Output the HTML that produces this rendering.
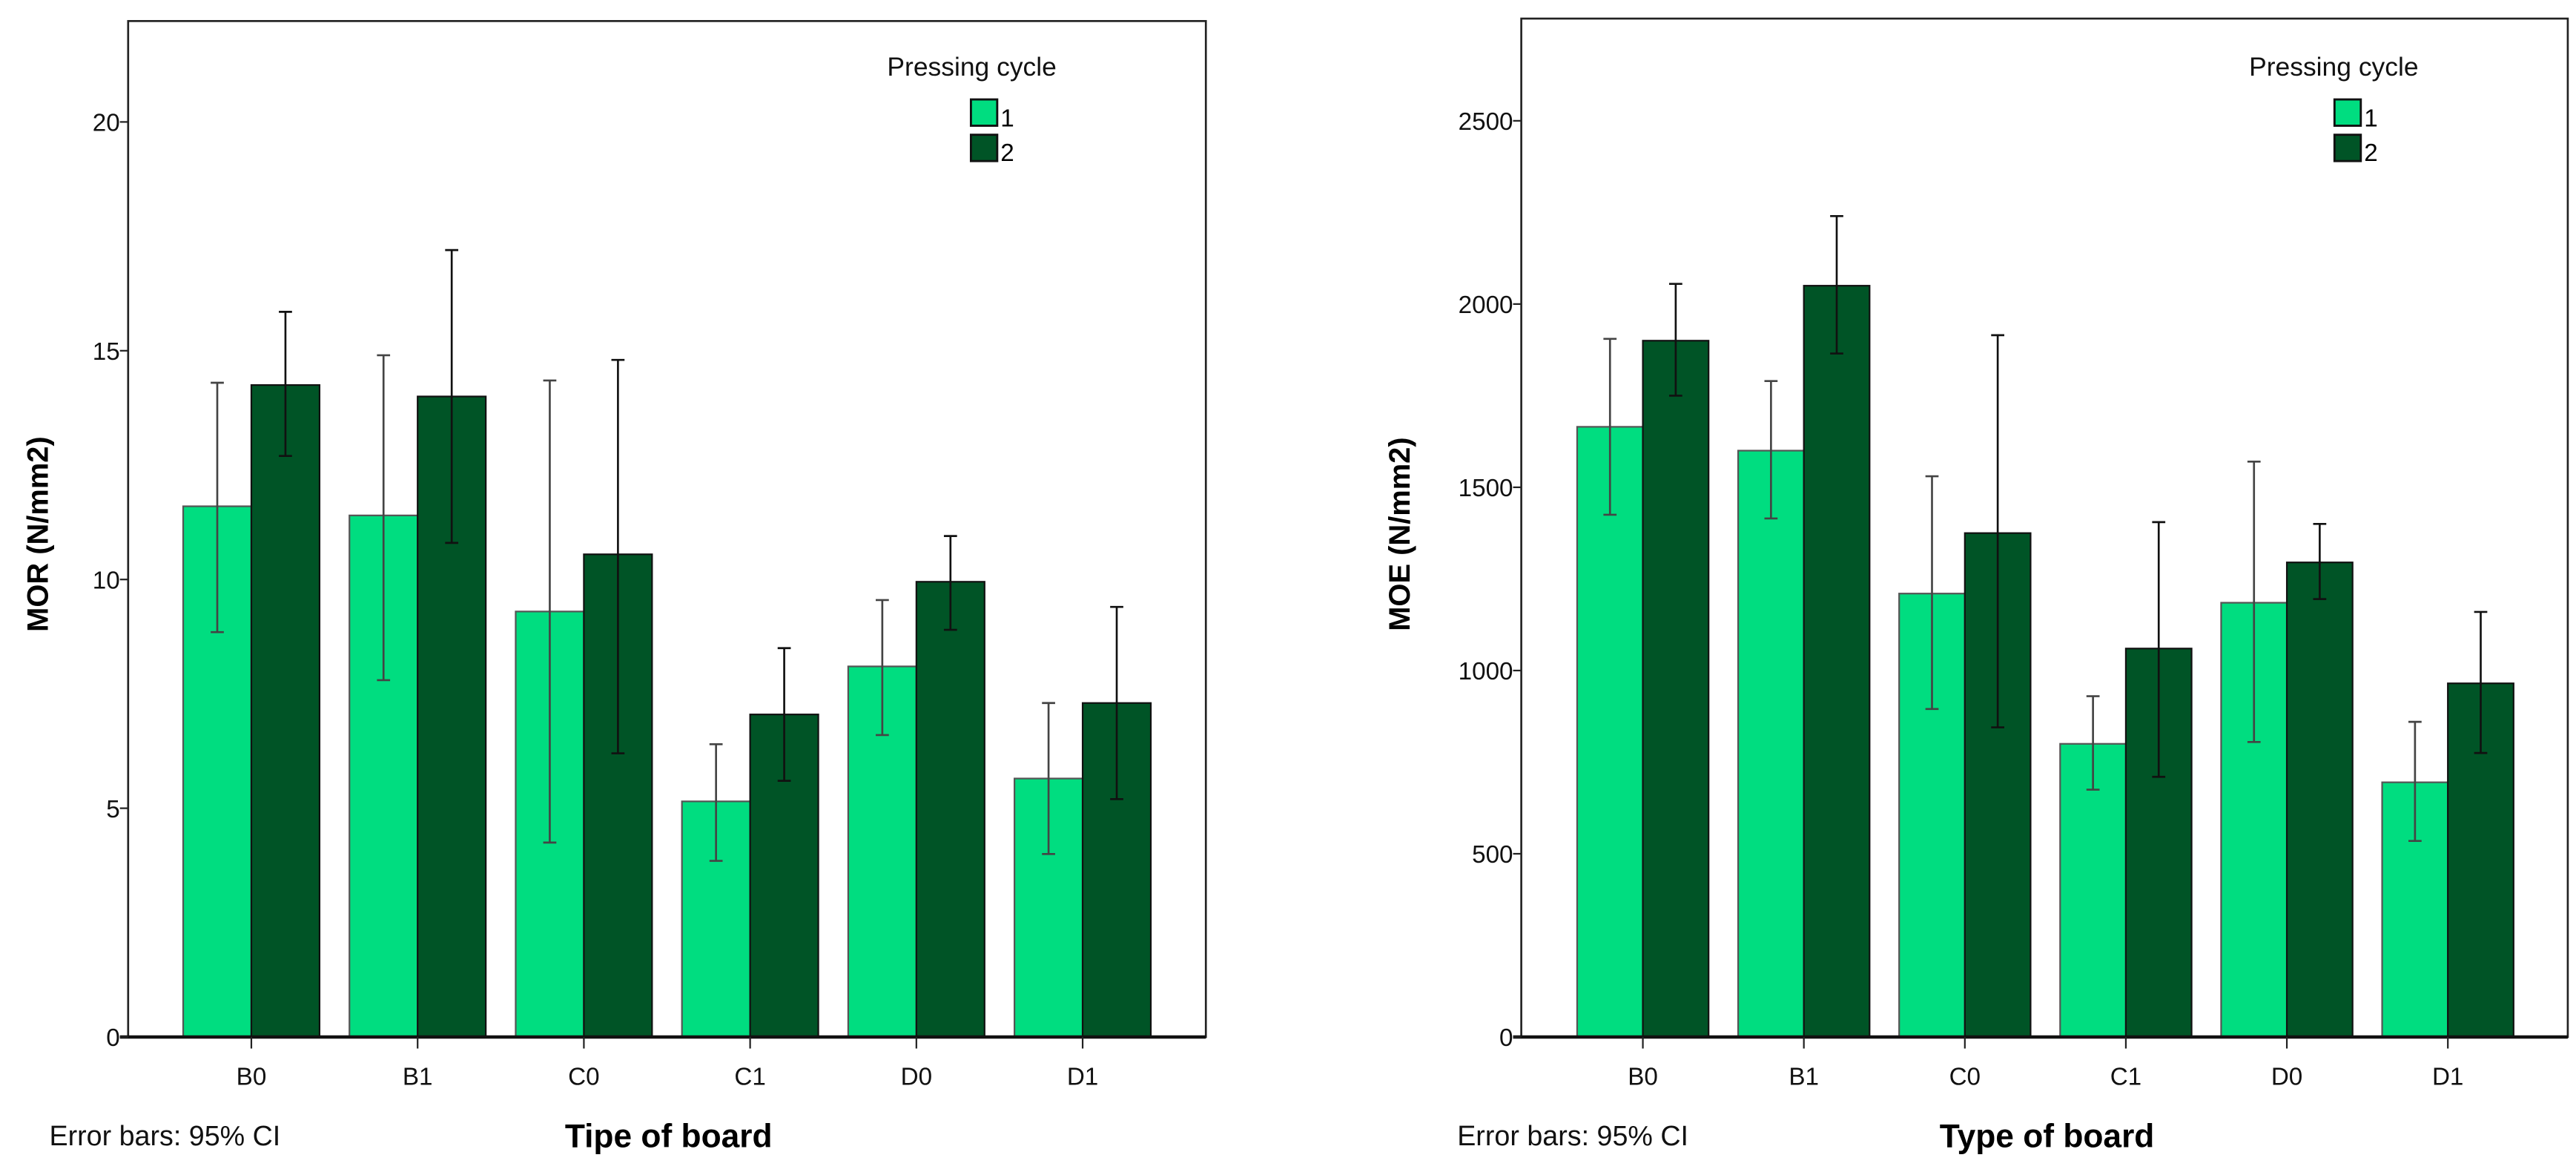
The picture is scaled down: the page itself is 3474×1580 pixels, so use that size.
<!DOCTYPE html>
<html><head><meta charset="utf-8"><style>
html,body{margin:0;padding:0;background:#fff}
svg{display:block}
text{font-family:"Liberation Sans",Arial,sans-serif}
</style></head><body>
<svg id="s" width="3474" height="1580" viewBox="0 0 1568 713.13" xmlns="http://www.w3.org/2000/svg"></svg>
<script>
const categories = ["B0","B1","C0","C1","D0","D1"];
const morCycle1 = [11.6, 11.4, 9.3, 5.15, 8.1, 5.65];
const morCycle1Lo = [8.85, 7.8, 4.25, 3.85, 6.6, 4.0];
const morCycle1Hi = [14.3, 14.9, 14.35, 6.4, 9.55, 7.3];
const morCycle2 = [14.25, 14.0, 10.55, 7.05, 9.95, 7.3];
const morCycle2Lo = [12.7, 10.8, 6.2, 5.6, 8.9, 5.2];
const morCycle2Hi = [15.85, 17.2, 14.8, 8.5, 10.95, 9.4];
const morTicks = [0, 5, 10, 15, 20];
const moeCycle1 = [1665, 1600, 1210, 800, 1185, 695];
const moeCycle1Lo = [1425, 1415, 895, 675, 805, 535];
const moeCycle1Hi = [1905, 1790, 1530, 930, 1570, 860];
const moeCycle2 = [1900, 2050, 1375, 1060, 1295, 965];
const moeCycle2Lo = [1750, 1865, 845, 710, 1195, 775];
const moeCycle2Hi = [2055, 2240, 1915, 1405, 1400, 1160];
const moeTicks = [0, 500, 1000, 1500, 2000, 2500];

const NS = "http://www.w3.org/2000/svg";
const svg = document.getElementById('s');
function mk(tag, attrs, parent, txt){
  const e = document.createElementNS(NS, tag);
  for (const k in attrs) e.setAttribute(k, attrs[k]);
  if (txt !== undefined) e.textContent = txt;
  (parent||svg).appendChild(e);
  return e;
}
function chart(cfg){
  const g = mk('g', {});
  
  
  const y = v => cfg.y0 - (v / cfg.tickStep) * cfg.tickPx;
  const xc = i => cfg.xFirst + i * cfg.xStep;
  const bw = cfg.bw;
  categories.forEach((c, i) => {
    const specs = [[cfg.s1, '#00dd80', '#555', -bw, 'cycle-1'], [cfg.s2, '#005426', '#111', 0, 'cycle-2']];
    specs.forEach(([vals, fill, stroke, off, nm]) => {
      const r = mk('rect', {x: xc(i)+off, y: y(vals[i]), width: bw, height: cfg.y0 - y(vals[i]), fill: fill, stroke: stroke, 'stroke-width': 1}, g);
      
      
    });
  });
  categories.forEach((c, i) => {
    const specs = [[cfg.s1lo, cfg.s1hi, -bw/2, '#444', 'cycle-1'], [cfg.s2lo, cfg.s2hi, bw/2, '#111', 'cycle-2']];
    specs.forEach(([lo, hi, off, col, nm]) => {
      const cx = xc(i) + off;
      const eg = mk('g', {stroke: col, 'stroke-width': 1.2}, g);
      
      
      mk('line', {x1: cx, x2: cx, y1: y(lo[i]), y2: y(hi[i])}, eg);
      mk('line', {x1: cx-4, x2: cx+4, y1: y(lo[i]), y2: y(lo[i])}, eg);
      mk('line', {x1: cx-4, x2: cx+4, y1: y(hi[i]), y2: y(hi[i])}, eg);
    });
  });
  const fr = mk('rect', {x: cfg.left, y: cfg.top, width: cfg.right - cfg.left, height: cfg.y0 - cfg.top, fill: 'none', stroke: '#222', 'stroke-width': 1.2}, g);
  
  
  mk('line', {x1: cfg.left-5, x2: cfg.right, y1: cfg.y0, y2: cfg.y0, stroke: '#111', 'stroke-width': 2}, g);
  cfg.ticks.forEach(t => {
    mk('line', {x1: cfg.left-5, x2: cfg.left, y1: y(t), y2: y(t), stroke: '#222', 'stroke-width': 1}, g);
    const tl = mk('text', {x: cfg.left-5, y: y(t)+5.5, 'font-size': 15, 'text-anchor': 'end', fill: '#111'}, g, String(t));
    
    
  });
  categories.forEach((c, i) => {
    mk('line', {x1: xc(i), x2: xc(i), y1: cfg.y0, y2: cfg.y0+7, stroke: '#222', 'stroke-width': 1}, g);
    const tl = mk('text', {x: xc(i), y: cfg.y0+29, 'font-size': 15, 'text-anchor': 'middle', fill: '#111'}, g, c);
    
    
  });
  const yt = mk('text', {x: 0, y: 0, 'font-size': 18, 'font-weight': 'bold', 'text-anchor': 'middle', transform: 'translate(' + cfg.yTitleX + ',325) rotate(-90)'}, g, cfg.yTitle);
  
  
  const xt = mk('text', {x: cfg.xTitleX, y: 698, 'font-size': 20, 'font-weight': 'bold', 'text-anchor': 'middle', fill: '#000'}, g, cfg.xTitle);
  
  
  const eb = mk('text', {x: cfg.ebX, y: 697, 'font-size': 17, fill: '#111'}, g, 'Error bars: 95% CI');
  
  
  const lg = mk('g', {}, g);
  
  
  mk('text', {x: cfg.legX, y: 46, 'font-size': 16, fill: '#111'}, lg, 'Pressing cycle');
  const sx = cfg.swX;
  const e1 = mk('rect', {x: sx, y: 60.5, width: 16, height: 16, fill: '#00dd80', stroke: '#111', 'stroke-width': 1.3}, lg);
  
  
  mk('text', {x: sx+18, y: 77, 'font-size': 15}, lg, '1');
  const e2 = mk('rect', {x: sx, y: 82, width: 16, height: 16, fill: '#005426', stroke: '#111', 'stroke-width': 1.3}, lg);
  
  
  mk('text', {x: sx+18, y: 98, 'font-size': 15}, lg, '2');
}
chart({name: 'mor-chart', left: 78, right: 734, top: 12.8, y0: 631, tickStep: 5, tickPx: 139.2, xFirst: 153, xStep: 101.2, bw: 41.5,
  s1: morCycle1, s1lo: morCycle1Lo, s1hi: morCycle1Hi, s2: morCycle2, s2lo: morCycle2Lo, s2hi: morCycle2Hi,
  ticks: morTicks, yTitle: 'MOR (N/mm2)', yTitleX: 29, xTitle: 'Tipe of board', xTitleX: 407, ebX: 30, legX: 540, swX: 591});
chart({name: 'moe-chart', left: 926, right: 1563, top: 11.3, y0: 631, tickStep: 500, tickPx: 111.5, xFirst: 1000, xStep: 98, bw: 40,
  s1: moeCycle1, s1lo: moeCycle1Lo, s1hi: moeCycle1Hi, s2: moeCycle2, s2lo: moeCycle2Lo, s2hi: moeCycle2Hi,
  ticks: moeTicks, yTitle: 'MOE (N/mm2)', yTitleX: 858, xTitle: 'Type of board', xTitleX: 1246, ebX: 887, legX: 1369, swX: 1421});
</script>
</body></html>
